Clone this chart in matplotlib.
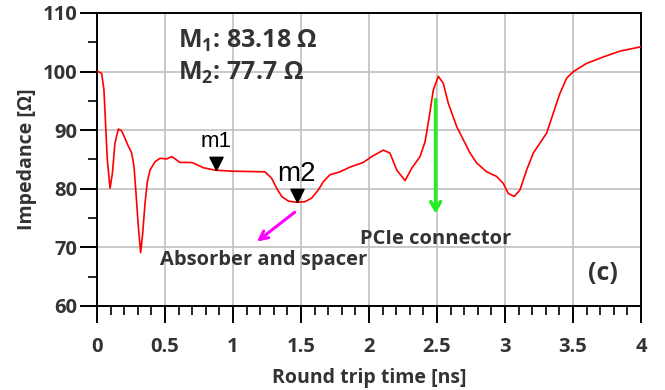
import numpy as np
import matplotlib
matplotlib.use("Agg")
import matplotlib.pyplot as plt
from matplotlib.ticker import MultipleLocator

# round trip time [ns] and impedance [ohm]
t = [0.0, 0.01, 0.034, 0.051, 0.064, 0.076, 0.096, 0.113, 0.132, 0.157, 0.181,
     0.206, 0.23, 0.255, 0.272, 0.287, 0.304, 0.321, 0.336, 0.353, 0.37, 0.39,
     0.426, 0.463, 0.512, 0.549, 0.574, 0.61, 0.684, 0.708, 0.782, 0.868, 1.0,
     1.235, 1.284, 1.321, 1.358, 1.407, 1.468, 1.529, 1.578, 1.627, 1.664,
     1.713, 1.787, 1.86, 1.958, 2.02, 2.105, 2.154, 2.204, 2.265, 2.314, 2.375,
     2.412, 2.443, 2.473, 2.51, 2.546, 2.583, 2.645, 2.743, 2.792, 2.865,
     2.939, 2.988, 3.024, 3.068, 3.11, 3.159, 3.208, 3.257, 3.306, 3.355,
     3.404, 3.454, 3.503, 3.6, 3.723, 3.846, 3.993, 4.0]
z = [100.0, 100.0, 99.7, 96.9, 90.6, 84.9, 80.1, 82.6, 87.8, 90.2, 89.9,
     88.6, 87.3, 86.1, 83.8, 79.2, 73.5, 69.1, 72.4, 77.5, 81.2, 83.2,
     84.6, 85.2, 85.1, 85.5, 85.1, 84.5, 84.5, 84.4, 83.6, 83.18, 83.0,
     82.9, 81.8, 80.1, 78.7, 77.9, 77.7, 77.8, 78.4, 79.8, 81.2,
     82.4, 82.9, 83.7, 84.5, 85.5, 86.6, 86.1, 83.2, 81.4, 83.5, 85.5,
     88.0, 92.3, 96.9, 99.2, 98.0, 94.6, 90.6, 86.1, 84.4, 82.9,
     82.1, 80.9, 79.2, 78.7, 79.8, 83.2, 86.1, 87.8, 89.5, 92.9,
     96.3, 98.9, 100.0, 101.4, 102.5, 103.5, 104.2, 104.3]

marker_t = [0.875, 1.47]
marker_z = [83.18, 77.7]
marker_names = ["m1", "m2"]

txt = "#333333"
plt.rcParams['font.family'] = ['Open Sans', 'DejaVu Sans']
plt.rcParams['font.weight'] = 'bold'
plt.rcParams['axes.labelweight'] = 'bold'
plt.rcParams['mathtext.fontset'] = 'custom'
plt.rcParams['mathtext.bf'] = 'Open Sans:bold'
plt.rcParams['mathtext.rm'] = 'Open Sans:bold'

fig = plt.figure(figsize=(6.65, 3.9), dpi=100)
ax = fig.add_axes([97/665, 1-306/390, 544/665, 293/390])

ax.plot(t, z, color="red", lw=1.2, zorder=3)

# marker triangles, tip on the curve
tri = matplotlib.path.Path([(0, 0), (-0.5, 1), (0.5, 1), (0, 0)])
ax.plot(marker_t, marker_z, ls="none", marker=tri, ms=19, color="black", zorder=4)
ax.annotate(marker_names[0], (marker_t[0], marker_z[0]), xytext=(0, 13),
            textcoords="offset points", ha="center", va="bottom",
            fontsize=16, family="Liberation Sans", fontweight="normal", color="black")
ax.annotate(marker_names[1], (marker_t[1], marker_z[1]), xytext=(0, 11),
            textcoords="offset points", ha="center", va="bottom",
            fontsize=20, family="Liberation Sans", fontweight="normal", color="black")

ax.text(0.149, 0.905, "M$_1$: 83.18 Ω", transform=ax.transAxes,
        fontsize=18, color=txt, va="center")
ax.text(0.149, 0.795, "M$_2$: 77.7 Ω", transform=ax.transAxes,
        fontsize=18, color=txt, va="center")

# arrows
ax.annotate("", xy=(2.49, 75.3), xytext=(2.49, 95.7),
            arrowprops=dict(arrowstyle="->,head_length=0.6,head_width=0.35",
                            color="#22ee22", lw=2.6))
ax.annotate("", xy=(1.16, 70.7), xytext=(1.47, 76.3),
            arrowprops=dict(arrowstyle="->,head_length=0.6,head_width=0.3",
                            color="#ff00ff", lw=2.2))
ax.text(2.49, 71.4, "PCIe connector", fontsize=14.5,
        color=txt, ha="center", va="center")
ax.text(1.224, 67.8, "Absorber and spacer", fontsize=14.5,
        color=txt, ha="center", va="center")
ax.text(0.93, 0.11, "(c)", transform=ax.transAxes, fontsize=18,
        color=txt, ha="center", va="center")

ax.set_xlim(0, 4)
ax.set_ylim(60, 110)
ax.xaxis.set_major_locator(MultipleLocator(0.5))
ax.xaxis.set_minor_locator(MultipleLocator(0.1))
ax.yaxis.set_major_locator(MultipleLocator(10))
ax.yaxis.set_minor_locator(MultipleLocator(5))
ax.set_xticks(np.arange(0, 4.01, 0.5))
ax.set_xticklabels(["0", "0.5", "1", "1.5", "2", "2.5", "3", "3.5", "4"])
ax.grid(True, which="major", color="#c0c0c0", lw=1.2)
ax.set_axisbelow(True)
for s in ax.spines.values():
    s.set_linewidth(1.4)
    s.set_color("black")
ax.tick_params(which="major", direction="out", length=12, width=1.4,
               labelsize=14.5, labelcolor=txt, pad=2)
ax.tick_params(axis="x", which="major", pad=10)
ax.tick_params(which="minor", direction="out", length=6.5, width=1.2)
for lab in ax.get_xticklabels() + ax.get_yticklabels():
    lab.set_fontweight("bold")

ax.set_xlabel("Round trip time [ns]", fontsize=14,
              color=txt, labelpad=8)
ax.set_ylabel("Impedance [Ω]", fontsize=14,
              color=txt, labelpad=4)

fig.savefig("out.png", dpi=100)
